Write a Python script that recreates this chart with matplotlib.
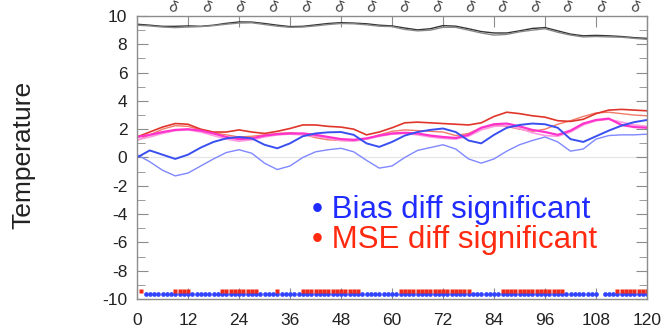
import numpy as np
import matplotlib
matplotlib.use("Agg")
import matplotlib.pyplot as plt
from matplotlib.ticker import MultipleLocator

plt.rcParams['font.family'] = ['Liberation Sans', 'DejaVu Sans']
plt.rcParams['axes.unicode_minus'] = False

# forecast lead time (h), every 3 h
hours = np.arange(0, 121, 3)

# scores (two runs each)
black_a = [9.42, 9.35, 9.27, 9.27, 9.30, 9.27, 9.35, 9.48, 9.58, 9.57, 9.47, 9.35, 9.25, 9.27,
           9.37, 9.47, 9.53, 9.50, 9.45, 9.35, 9.30, 9.15, 9.02, 9.10, 9.32, 9.28, 9.10, 8.90,
           8.80, 8.80, 8.95, 9.12, 9.18, 8.95, 8.72, 8.60, 8.63, 8.60, 8.55, 8.47, 8.42]
black_b = [9.35, 9.30, 9.22, 9.18, 9.22, 9.25, 9.32, 9.42, 9.50, 9.52, 9.40, 9.28, 9.20, 9.22,
           9.30, 9.40, 9.47, 9.45, 9.38, 9.28, 9.25, 9.05, 8.95, 9.00, 9.20, 9.20, 9.00, 8.80,
           8.65, 8.70, 8.88, 9.00, 9.10, 8.85, 8.65, 8.52, 8.55, 8.52, 8.50, 8.42, 8.35]
red_a = [1.45, 1.80, 2.15, 2.40, 2.35, 2.00, 1.80, 1.80, 1.95, 1.80, 1.70, 1.85, 2.05, 2.30,
         2.30, 2.20, 2.15, 2.00, 1.60, 1.80, 2.10, 2.45, 2.50, 2.45, 2.40, 2.35, 2.30, 2.45,
         2.90, 3.20, 3.10, 2.95, 2.85, 2.60, 2.55, 2.70, 3.10, 3.35, 3.40, 3.35, 3.30]
red_b = [1.20, 1.60, 2.00, 2.25, 2.20, 1.95, 1.75, 1.60, 1.45, 1.50, 1.60, 1.70, 1.75, 1.65,
         1.40, 1.25, 1.20, 1.20, 1.30, 1.60, 1.85, 1.95, 1.90, 1.85, 1.80, 1.55, 1.70, 2.10,
         2.30, 2.20, 2.00, 1.85, 2.00, 2.35, 2.60, 2.90, 3.15, 3.20, 3.10, 3.00, 2.95]
mag_a = [1.45, 1.60, 1.80, 1.95, 2.00, 1.90, 1.70, 1.45, 1.30, 1.35, 1.55, 1.65, 1.70, 1.70,
         1.60, 1.45, 1.30, 1.25, 1.35, 1.55, 1.70, 1.75, 1.70, 1.55, 1.45, 1.38, 1.60, 2.10,
         2.35, 2.40, 2.20, 1.95, 1.80, 1.60, 1.90, 2.40, 2.65, 2.75, 2.30, 2.15, 2.10]
mag_b = [1.25, 1.45, 1.70, 1.90, 1.95, 1.80, 1.55, 1.30, 1.15, 1.25, 1.45, 1.60, 1.65, 1.60,
         1.50, 1.35, 1.20, 1.15, 1.30, 1.50, 1.65, 1.70, 1.60, 1.45, 1.35, 1.30, 1.50, 1.95,
         2.20, 2.25, 2.05, 1.75, 1.55, 1.50, 1.80, 2.30, 2.60, 2.70, 2.50, 2.30, 2.20]
blue_a = [0.00, 0.50, 0.20, -0.10, 0.20, 0.70, 1.10, 1.35, 1.45, 1.35, 0.90, 0.65, 1.00, 1.50,
          1.70, 1.78, 1.80, 1.60, 1.00, 0.75, 1.10, 1.55, 1.80, 1.95, 2.05, 1.80, 1.20, 1.00,
          1.60, 2.10, 2.30, 2.40, 2.35, 2.10, 1.30, 1.10, 1.50, 1.90, 2.25, 2.50, 2.65]
blue_b = [0.20, -0.30, -0.90, -1.30, -1.10, -0.60, -0.10, 0.35, 0.55, 0.30, -0.40, -0.85, -0.60, 0.00,
          0.40, 0.55, 0.65, 0.40, -0.20, -0.75, -0.60, 0.00, 0.50, 0.70, 0.90, 0.60, -0.10, -0.40,
          -0.10, 0.45, 0.90, 1.20, 1.45, 1.10, 0.45, 0.60, 1.30, 1.55, 1.60, 1.60, 1.65]

# hours where the differences are significant (start, end)
bias_spans = [(2, 108), (110, 120)]
mse_spans = [(1, 1), (9, 12), (20, 28), (33, 33), (39, 52), (62, 78), (86, 100), (113, 120)]
bias_level = -9.67
mse_level = -9.42

top_marks = [8.5, 16.4, 24.2, 31.9, 39.6, 47.4, 55.0, 62.7, 70.5, 78.2, 85.9, 93.6, 101.2, 109.0, 117.0]

fig = plt.figure(figsize=(6.61, 3.30), dpi=100)
ax = fig.add_axes([137/661, 1 - 299/330, 510/661, 283/330])

ax.axhline(0, color='#e6e6e6', lw=1, zorder=0)

ax.plot(hours, black_a, color='#333333', lw=1.0)
ax.plot(hours, black_b, color='#888888', lw=1.0)
ax.plot(hours, red_b, color='#f27a6a', lw=1.0)
ax.plot(hours, red_a, color='#e0352a', lw=1.2)
ax.plot(hours, mag_b, color='#ff99e0', lw=1.2)
ax.plot(hours, mag_a, color='#ff33cc', lw=1.6)
ax.plot(hours, blue_b, color='#7f88ff', lw=1.0)
ax.plot(hours, blue_a, color='#3a4ff0', lw=1.4)

for a, b in bias_spans:
    h = np.arange(a, b + 1)
    ax.plot(h, np.full(len(h), bias_level), 'o', ms=3.4, color='#3344ff', mec='none')
for a, b in mse_spans:
    h = np.arange(a, b + 1)
    ax.plot(h, np.full(len(h), mse_level), 's', ms=3.4, color='#ee2a1a', mec='none')

ax.set_xlim(0, 120)
ax.set_ylim(-10, 10)
ax.set_xticks(np.arange(0, 121, 12))
ax.yaxis.set_major_locator(MultipleLocator(2))
ax.yaxis.set_minor_locator(MultipleLocator(1))

for s in ax.spines.values():
    s.set_color('#8c8c8c')
    s.set_linewidth(1)
ax.tick_params(which='both', direction='in', color='#8c8c8c', top=True, right=True,
               labelsize=12.5, labelcolor='#222222')
ax.tick_params(axis='x', which='major', length=8, pad=10)
ax.tick_params(axis='y', which='major', length=8, pad=7)
ax.tick_params(axis='y', which='minor', length=6)

fig.text(23/661, 1 - 155/330, 'Temperature', rotation=90, ha='center', va='center',
         fontsize=19, color='#222222')

ax.text(41.2, -3.71, '\u2022 Bias diff significant', color='#1f2bff', fontsize=22.5,
        ha='left', va='center')
ax.text(41.2, -5.83, '\u2022 MSE diff significant', color='#ff2a10', fontsize=22.5,
        ha='left', va='center')

for xm in top_marks:
    fig.text((137 + 4.25 * xm) / 661, 1.0, '\u03b4', ha='center', va='top',
             fontsize=11, color='#444444', rotation=-20)

fig.savefig('out.png', dpi=100)
